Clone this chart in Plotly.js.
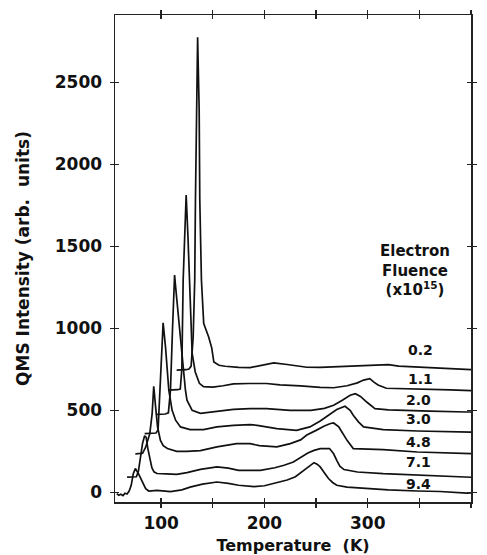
<!DOCTYPE html>
<html>
<head>
<meta charset="utf-8">
<script src="https://cdn.plot.ly/plotly-3.0.1.min.js"></script>
<style>
  html, body { margin: 0; padding: 0; background: #fff; }
  #chart { width: 487px; height: 555px; }
</style>
</head>
<body>
<div id="chart"></div>
<script>
// Electron fluence (x10^15) for each curve, top to bottom
const fluences = ['0.2', '1.1', '2.0', '3.0', '4.8', '7.1', '9.4'];

// Temperature (K) and QMS intensity (arb. units) for each curve
const T02 = [115, 120, 124, 127, 129, 131, 132.5, 133.2, 134.1, 134.8, 135.3, 136.8, 137.4, 139, 141.2, 146, 149, 151, 156, 162, 175, 186, 198, 209, 222, 241, 254, 267, 299, 320, 330, 360, 380, 396, 400];
const I02 = [745, 746, 748, 752, 770, 950, 1294, 1783, 2332, 2776, 2776, 2332, 1783, 1294, 1030, 948, 880, 795, 775, 769, 762, 761, 778, 790, 780, 763, 762, 765, 772, 779, 770, 762, 758, 751, 749];

const T11 = [107, 112, 116, 118.5, 120, 121.3, 124.2, 126, 127.7, 129, 130, 133, 137, 141, 150, 160, 170, 185, 202, 215, 235, 254, 267, 280, 290, 296, 302, 306, 310, 318, 340, 360, 380, 400];
const I11 = [623, 624, 626, 630, 750, 1294, 1813, 1550, 1294, 1000, 847, 734, 665, 645, 642, 650, 662, 664, 664, 655, 650, 640, 638, 650, 668, 685, 694, 672, 655, 635, 630, 628, 625, 621];

const T20 = [96, 100, 104, 107, 109, 111, 113, 114, 117, 119.6, 122, 123.5, 125, 130, 138, 154, 170, 186, 202, 225, 245, 258, 267, 275, 283, 288, 293, 299, 303, 307, 320, 331, 360, 396, 400];
const I20 = [476, 477, 478, 485, 623, 1000, 1325, 1253, 1050, 908, 745, 623, 562, 500, 482, 496, 506, 511, 511, 500, 500, 512, 531, 560, 592, 602, 585, 551, 528, 511, 503, 500, 495, 490, 490];

const T30 = [84, 88, 92, 95, 97, 98.6, 101.9, 104.2, 107.4, 110.6, 114, 118.7, 128, 141, 154, 170, 186, 193, 212, 231, 244, 254, 262, 270, 278, 283, 286, 291, 296, 305, 315, 348, 396, 400];
const I30 = [358, 358, 360, 362, 380, 623, 1034, 887, 623, 500, 440, 399, 383, 383, 399, 409, 413, 409, 389, 378, 399, 435, 470, 505, 525, 500, 470, 430, 399, 390, 383, 374, 368, 367];

const T48 = [75, 79, 82, 85, 89, 91.3, 92.8, 95.2, 96.5, 99.3, 102, 106, 115, 125, 138, 154, 173, 186, 195, 212, 225, 235, 241, 250, 258, 264, 267, 272, 276, 280, 286, 300, 315, 348, 375, 396, 400];
const I48 = [234, 236, 238, 275, 358, 482, 647, 482, 399, 317, 285, 267, 250, 250, 254, 277, 297, 297, 285, 277, 297, 320, 350, 378, 405, 420, 423, 399, 355, 317, 267, 263, 261, 246, 240, 236, 236];

const T71 = [67, 72, 76, 78, 80, 82, 84, 85.5, 87, 89, 91, 93, 96, 105, 115, 125, 138, 154, 165, 175, 196, 210, 219, 228, 235, 242, 248, 254, 263, 267, 270, 273, 277, 285, 290, 315, 348, 375, 396, 400];
const I71 = [93, 92, 95, 130, 220, 300, 345, 335, 270, 200, 150, 125, 115, 112, 110, 120, 140, 155, 148, 134, 134, 150, 165, 185, 215, 240, 256, 267, 267, 235, 195, 160, 139, 128, 124, 114, 104, 98, 93, 92];

const T94 = [57, 59, 61, 63, 65, 67, 69, 71, 73, 75, 78, 81.5, 85, 88, 96, 109, 120, 128, 140, 154, 165, 175, 190, 200, 212, 222, 230, 236, 241, 245, 248, 251, 254, 258, 262, 266, 270, 280, 299, 320, 348, 370, 396, 400];
const I94 = [-8, -18, -12, -20, -5, -10, 8, 43, 114, 145, 114, 63, 22, 8, 12, 4, 15, 32, 50, 63, 55, 43, 35, 40, 60, 75, 95, 125, 145, 170, 181, 172, 155, 120, 84, 60, 43, 32, 22, 15, 8, 5, -5, -3];

const xTickVals = [100, 200, 300, 400];
const yTickVals = [0, 500, 1000, 1500, 2000, 2500];

const seriesT = [T02, T11, T20, T30, T48, T71, T94];
const seriesI = [I02, I11, I20, I30, I48, I71, I94];

// label placement (layout only)
const labelX = [351.4, 351.4, 349.1, 349.1, 349.1, 349.1, 349.1];
const labelY = [867, 694, 562, 450, 307, 185, 53];

const FONT = 'DejaVu Sans, Arial, sans-serif';

const traces = seriesT.map((t, i) => ({
  type: 'scatter', mode: 'lines', x: t, y: seriesI[i],
  name: fluences[i],
  line: { color: '#111', width: 1.7 },
  hoverinfo: 'skip', showlegend: false
}));
// placeholder trace so the overlay axes (inward tick marks) get drawn
traces.push({ type: 'scatter', mode: 'lines', x: [null], y: [null], xaxis: 'x2', yaxis: 'y2', showlegend: false, hoverinfo: 'skip' });

const xr = [55.3, 400];
const yr = [-59, 2912];

const annotations = fluences.map((f, i) => ({
  x: labelX[i], y: labelY[i], xref: 'x', yref: 'y', text: f, showarrow: false,
  xanchor: 'center', yanchor: 'middle',
  font: { family: FONT, size: 14, color: '#111', weight: 'bold' }
}));
annotations.push({
  x: 346, y: 1355, xref: 'x', yref: 'y', showarrow: false,
  text: 'Electron<br>Fluence<br>(x10<sup>15</sup>)', align: 'center',
  xanchor: 'center', yanchor: 'middle',
  font: { family: FONT, size: 15, color: '#111', weight: 'bold' }
});

const axisCommon = {
  showline: true, linecolor: '#222', linewidth: 1.5, mirror: 'allticks',
  showgrid: false, zeroline: false, tickcolor: '#222', tickwidth: 1.4, ticklen: 4
};

const layout = {
  width: 487, height: 555,
  margin: { l: 115, r: 16, t: 15, b: 53 },
  paper_bgcolor: '#fff', plot_bgcolor: '#fff',
  showlegend: false,
  xaxis: Object.assign({}, axisCommon, {
    range: xr, tickmode: 'array', tickvals: xTickVals, ticks: 'outside',
    minor: { tickmode: 'linear', tick0: 0, dtick: 50, ticks: 'outside', ticklen: 4, tickcolor: '#222', tickwidth: 1.2 },
    tickfont: { family: FONT, size: 17, color: '#111', weight: 'bold' },
    ticklabelstandoff: 1,
    title: { text: 'Temperature\u00a0 (K)', standoff: 8, font: { family: FONT, size: 16, color: '#111', weight: 'bold' } }
  }),
  yaxis: Object.assign({}, axisCommon, {
    range: yr, tickmode: 'array', tickvals: yTickVals, ticks: 'outside',
    tickfont: { family: FONT, size: 17, color: '#111', weight: 'bold' },
    ticklabelstandoff: 4,
    title: { text: 'QMS Intensity (arb.\u00a0 units)', standoff: 21, font: { family: FONT, size: 17, color: '#111', weight: 'bold' } }
  }),
  xaxis2: Object.assign({}, axisCommon, {
    overlaying: 'x', anchor: 'y2', range: xr, tickmode: 'array', tickvals: xTickVals, ticks: 'inside',
    minor: { tickmode: 'linear', tick0: 0, dtick: 50, ticks: 'inside', ticklen: 4, tickcolor: '#222', tickwidth: 1.2 },
    showticklabels: false
  }),
  yaxis2: Object.assign({}, axisCommon, {
    overlaying: 'y', anchor: 'x2', range: yr, tickmode: 'array', tickvals: yTickVals, ticks: 'inside',
    showticklabels: false
  }),
  annotations: annotations
};

Plotly.newPlot('chart', traces, layout, { displayModeBar: false, staticPlot: true });
</script>
</body>
</html>
